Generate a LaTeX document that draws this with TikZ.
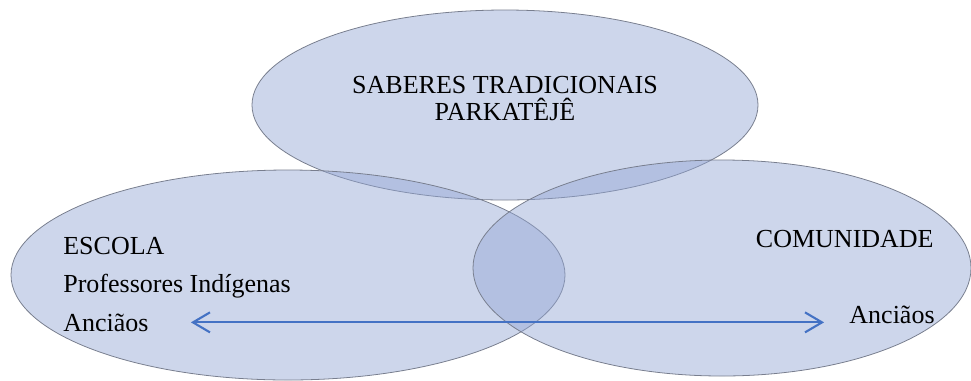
\documentclass[tikz,border=0pt]{standalone}
\usepackage{fontspec}
\setmainfont{Liberation Serif}
\usetikzlibrary{arrows.meta}
\definecolor{preenche}{RGB}{147,166,212}
\definecolor{contorno}{RGB}{120,126,142}
\definecolor{setaazul}{RGB}{68,114,196}
\tikzset{
  circulo/.style={fill=preenche, fill opacity=0.46, draw=contorno, line width=0.45pt},
  rotulo/.style={inner sep=0pt, font=\fontsize{14.8}{18}\selectfont},
  seta/.style={{Straight Barb[length=3.4mm,width=4mm]}-{Straight Barb[length=3.4mm,width=4mm]}, setaazul, line width=1.2pt}
}
\begin{document}
\begin{tikzpicture}[x=0.02cm, y=-0.02cm]
\useasboundingbox (0,0) rectangle (971,380);

%--- Elipses ---
\draw[circulo] (505,105) ellipse [x radius=253, y radius=95];
\draw[circulo] (288,275) ellipse [x radius=277, y radius=105];
\draw[circulo] (722,268) ellipse [x radius=249, y radius=108];

%--- Textos ---
\node[rotulo, anchor=base] (saberes) at (505,93) {SABERES TRADICIONAIS};
\node[rotulo, anchor=base] (parka) at (505,120) {PARKATÊJÊ};

\node[rotulo, anchor=base west] (escola) at (63,254) {ESCOLA};
\node[rotulo, anchor=base west] (prof) at (63,292) {Professores Indígenas};
\node[rotulo, anchor=base west] (ancE) at (63,331) {Anciãos};

\node[rotulo, anchor=base east] (comun) at (934,247) {COMUNIDADE};
\node[rotulo, anchor=base east] (ancC) at (935,323) {Anciãos};

%--- Seta ---
\draw[seta, shorten <=8.4mm, shorten >=5mm] (ancE.east) -- (ancE.east -| ancC.west);

\end{tikzpicture}
\end{document}
